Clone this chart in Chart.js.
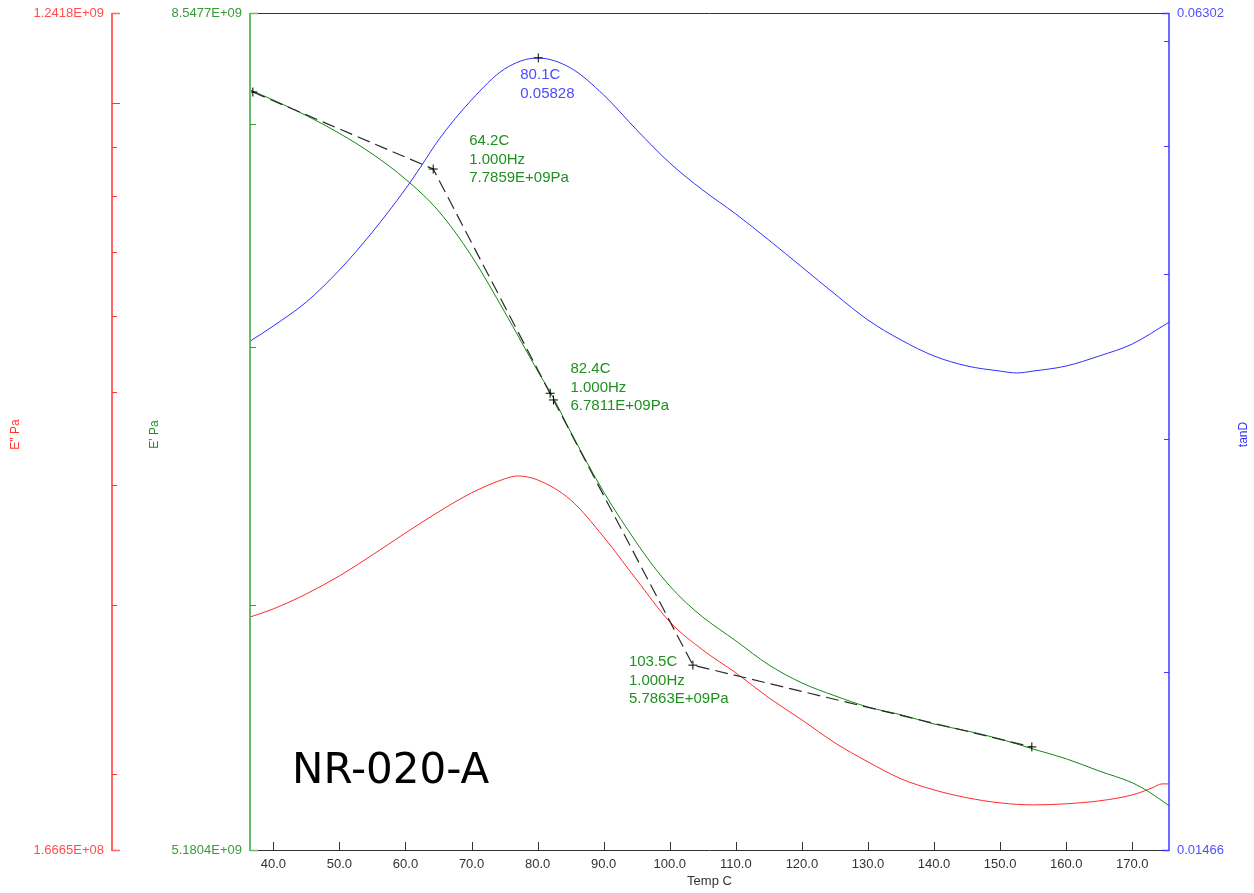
<!DOCTYPE html>
<html><head><meta charset="utf-8">
<script src="https://cdn.jsdelivr.net/npm/chart.js@4.4.1/dist/chart.umd.min.js"></script>
<style>html,body{margin:0;padding:0;background:#fff}#wrap{width:1254px;height:893px;position:relative}</style>
</head><body><div id="wrap"><canvas id="c"></canvas></div>
<script>
// ---------- DATA ----------
const X_MIN = 36.47, X_MAX = 175.56;
const xTickValues = [40,50,60,70,80,90,100,110,120,130,140,150,160,170];
const xTitle = 'Temp C';

const storageMin = 5.1804e9, storageMax = 8.5477e9;
const storageAxisLabels = ['8.5477E+09', '5.1804E+09'];
const storageTickValues = [8e9, 7e9, 6e9];
const storageTitle = "E' Pa";

const lossMin = 1.6665e8, lossMax = 1.2418e9;
const lossAxisLabels = ['1.2418E+09', '1.6665E+08'];
const lossTickValues = [1e9, 9e8, 8e8, 7e8, 6e8, 5e8, 4e8, 3e8, 2e8];
const lossTitle = "E'' Pa";

const tanMin = 0.01466, tanMax = 0.06302;
const tanAxisLabels = ['0.06302', '0.01466'];
const tanTickValues = [0.06, 0.05, 0.04, 0.03, 0.02];
const tanTitle = 'tanD';

const storageTemp = [36.5,40,45,50,55,60,65,70,75,80,82.4,85,90,95,97.5,100,102.5,105,110,115,120,125,130,135,140,145,150,155,160,165,170,172.5,175.6];
const storageModulus = [8.163e9,8.114e9,8.039e9,7.954e9,7.856e9,7.739e9,7.593e9,7.391e9,7.148e9,6.900e9,6.789e9,6.653e9,6.418e9,6.225e9,6.140e9,6.067e9,6.006e9,5.955e9,5.871e9,5.787e9,5.725e9,5.681e9,5.643e9,5.617e9,5.586e9,5.563e9,5.536e9,5.503e9,5.471e9,5.431e9,5.393e9,5.364e9,5.319e9];

const lossTemp = [36.5,40,45,50,55,60,65,70,75,77,80,85,90,95,100,105,110,115,120,125,130,135,140,145,150,155,160,165,170,173,174.5,175.6];
const lossModulus = [2.915e8,2.972e8,3.081e8,3.217e8,3.383e8,3.566e8,3.751e8,3.926e8,4.060e8,4.089e8,4.050e8,3.860e8,3.532e8,3.186e8,2.881e8,2.693e8,2.549e8,2.401e8,2.277e8,2.155e8,2.059e8,1.977e8,1.925e8,1.889e8,1.866e8,1.857e8,1.862e8,1.875e8,1.902e8,1.934e8,1.953e8,1.953e8];

const tanTemp = [36.5,40,45,50,55,60,62.5,65,70,75,80,85,90,95,100,105,110,115,120,125,130,135,140,145,150,152.5,155,160,165,170,175.6];
const tanDelta = [0.03558,0.03653,0.03809,0.04027,0.04303,0.04638,0.04836,0.05051,0.05416,0.05716,0.05827,0.05726,0.05463,0.05140,0.04853,0.04629,0.04440,0.04243,0.04048,0.03862,0.03691,0.03565,0.03467,0.03407,0.03377,0.03366,0.03377,0.03407,0.03467,0.03540,0.03678];

const onsetTemp = [36.9, 64.2, 82.4, 103.5, 154.8];
const onsetModulus = [8.153e9, 7.7859e9, 6.7811e9, 5.7863e9, 5.510e9];

const markerTemp = [36.9, 64.2, 81.9, 82.4, 103.5, 154.8];
const markerModulus = [8.153e9, 7.7859e9, 6.8084e9, 6.7811e9, 5.7863e9, 5.510e9];
const peakTemp = [80.1];
const peakTan = [0.05828];

const noteTemp = [80.1, 64.2, 82.4, 103.5];
const noteValue = [0.05828, 7.7859e9, 6.7811e9, 5.7863e9];
const noteAxis = ['yTan', 'yStorage', 'yStorage', 'yStorage'];
const noteText = [['80.1C','0.05828'], ['64.2C','1.000Hz','7.7859E+09Pa'], ['82.4C','1.000Hz','6.7811E+09Pa'], ['103.5C','1.000Hz','5.7863E+09Pa']];
const sampleName = 'NR-020-A';

// ---------- STYLE / LAYOUT ----------
const C_RED = '#ff2a2a', C_GREEN = '#118811', C_BLUE = '#3030ff';
const noteOffsets = [[-18,17],[36,-28],[17,-31],[-64,-3]];
const noteColors = ['#4b4bff', '#1f8f1f', '#1f8f1f', '#1f8f1f'];
const FONT = '"Liberation Sans", Arial, sans-serif';

const pts = (xs, ys) => xs.map((x,i)=>({x, y: ys[i]}));
const fixedTicks = vals => s => { s.ticks = vals.map(v=>({value:v})); };

const axesPlugin = {
  id: 'dmaAxes',
  afterDraw(chart) {
    const {ctx, chartArea: ca, scales} = chart;
    const xs = scales.x, yr = scales.yLoss, yg = scales.yStorage, yb = scales.yTan;
    const line = (x1,y1,x2,y2) => { ctx.beginPath(); ctx.moveTo(x1,y1); ctx.lineTo(x2,y2); ctx.stroke(); };
    ctx.save();
    // frame
    ctx.strokeStyle = '#333'; ctx.lineWidth = 1;
    line(ca.left, ca.top + 0.5, ca.right, ca.top + 0.5);
    line(ca.left, ca.bottom + 0.5, ca.right, ca.bottom + 0.5);
    xTickValues.forEach(v => { const p = Math.round(xs.getPixelForValue(v)) + 0.5; line(p, ca.bottom, p, ca.bottom - 8); });

    // red (loss) axis
    const rx = yr.right;
    ctx.strokeStyle = '#ff6666'; ctx.lineWidth = 2;
    line(rx, ca.top, rx, ca.bottom + 1);
    ctx.lineWidth = 1.5;
    line(rx, ca.top + 0.5, rx + 8, ca.top + 0.5);
    line(rx, ca.bottom + 0.5, rx + 8, ca.bottom + 0.5);
    ctx.strokeStyle = '#ff3333'; ctx.lineWidth = 1;
    lossTickValues.forEach((v,i) => { const p = Math.round(yr.getPixelForValue(v)) + 0.5; line(rx, p, rx + (i === 0 ? 8 : 5), p); });

    // green (storage) axis
    const gx = ca.left;
    ctx.strokeStyle = '#66bb66'; ctx.lineWidth = 2;
    line(gx, ca.top, gx, ca.bottom + 1);
    ctx.lineWidth = 1.5;
    line(gx, ca.top + 0.5, gx + 8, ca.top + 0.5);
    line(gx, ca.bottom + 0.5, gx + 8, ca.bottom + 0.5);
    ctx.strokeStyle = '#339933'; ctx.lineWidth = 1;
    storageTickValues.forEach(v => { const p = Math.round(yg.getPixelForValue(v)) + 0.5; line(gx, p, gx + 6, p); });

    // blue (tan) axis
    const bx = ca.right;
    ctx.strokeStyle = '#3b3bff'; ctx.lineWidth = 1.5;
    line(bx, ca.top, bx, ca.bottom + 1);
    line(bx - 7, ca.top + 0.5, bx, ca.top + 0.5);
    line(bx - 7, ca.bottom + 0.5, bx, ca.bottom + 0.5);
    ctx.lineWidth = 1;
    tanTickValues.forEach(v => { const p = Math.round(yb.getPixelForValue(v)) + 0.5; line(bx - 5, p, bx, p); });

    // end labels
    ctx.font = '13px ' + FONT; ctx.textBaseline = 'middle';
    ctx.textAlign = 'right';
    ctx.fillStyle = '#ff4d4d';
    ctx.fillText(lossAxisLabels[0], rx - 8, yr.getPixelForValue(lossMax));
    ctx.fillText(lossAxisLabels[1], rx - 8, yr.getPixelForValue(lossMin));
    ctx.fillStyle = '#3a9a3a';
    ctx.fillText(storageAxisLabels[0], gx - 8, yg.getPixelForValue(storageMax));
    ctx.fillText(storageAxisLabels[1], gx - 8, yg.getPixelForValue(storageMin));
    ctx.textAlign = 'left';
    ctx.fillStyle = '#5050ff';
    ctx.fillText(tanAxisLabels[0], bx + 8, yb.getPixelForValue(tanMax));
    ctx.fillText(tanAxisLabels[1], bx + 8, yb.getPixelForValue(tanMin));

    // axis titles
    const midY = (ca.top + ca.bottom) / 2 + 3;
    const vtext = (t, x, col) => { ctx.save(); ctx.translate(x, midY); ctx.rotate(-Math.PI/2); ctx.textAlign='center'; ctx.fillStyle = col; ctx.font = '12px ' + FONT; ctx.fillText(t, 0, 0); ctx.restore(); };
    vtext(lossTitle, yr.left + 16, '#ff3333');
    vtext(storageTitle, yg.left + 43, '#1f8f1f');
    vtext(tanTitle, yb.right - 10, '#3030ff');

    // annotations
    ctx.font = '15px ' + FONT; ctx.textAlign = 'left'; ctx.textBaseline = 'middle';
    noteText.forEach((lines, i) => {
      const s = scales[noteAxis[i]];
      const px = xs.getPixelForValue(noteTemp[i]), py = s.getPixelForValue(noteValue[i]);
      ctx.fillStyle = noteColors[i];
      lines.forEach((t, j) => ctx.fillText(t, px + noteOffsets[i][0], py + noteOffsets[i][1] + j * 18.5));
    });

    // sample name
    ctx.fillStyle = '#000'; ctx.font = '42px "DejaVu Sans", sans-serif'; ctx.textBaseline = 'alphabetic';
    ctx.fillText(sampleName, ca.left + 42, ca.bottom - 67);
    ctx.restore();
  }
};

new Chart(document.getElementById('c'), {
  type: 'line',
  data: {
    datasets: [
      { data: pts(markerTemp, markerModulus), yAxisID: 'yStorage', showLine: false, pointStyle: 'cross', pointRadius: 4.5, borderColor: '#000', borderWidth: 1 },
      { data: pts(peakTemp, peakTan), yAxisID: 'yTan', showLine: false, pointStyle: 'cross', pointRadius: 4.5, borderColor: '#000', borderWidth: 1 },
      { data: pts(onsetTemp, onsetModulus), yAxisID: 'yStorage', borderColor: '#2a2a2a', borderWidth: 1.2, borderDash: [13, 6], pointRadius: 0, tension: 0 },
      { data: pts(storageTemp, storageModulus), yAxisID: 'yStorage', borderColor: C_GREEN, borderWidth: 1, pointRadius: 0, cubicInterpolationMode: 'monotone' },
      { data: pts(lossTemp, lossModulus), yAxisID: 'yLoss', borderColor: C_RED, borderWidth: 1, pointRadius: 0, cubicInterpolationMode: 'monotone' },
      { data: pts(tanTemp, tanDelta), yAxisID: 'yTan', borderColor: C_BLUE, borderWidth: 1, pointRadius: 0, cubicInterpolationMode: 'monotone' }
    ]
  },
  options: {
    responsive: true, maintainAspectRatio: false, animation: false,
    layout: { padding: { top: 13, left: 0, right: 0, bottom: 0 } },
    plugins: { legend: { display: false }, tooltip: { enabled: false } },
    scales: {
      x: {
        type: 'linear', position: 'bottom', min: X_MIN, max: X_MAX,
        afterBuildTicks: fixedTicks(xTickValues),
        ticks: { callback: v => Number(v).toFixed(1), color: '#333', font: { family: FONT, size: 13 }, padding: 7, maxRotation: 0, autoSkip: false },
        grid: { display: false, drawTicks: false }, border: { display: false },
        title: { display: true, text: xTitle, color: '#333', font: { family: FONT, size: 13 }, padding: { top: 0, bottom: 4 } },
        afterFit: s => { s.height = 43; }
      },
      yLoss: {
        type: 'logarithmic', position: 'left', weight: 2, min: lossMin, max: lossMax,
        ticks: { display: false }, grid: { display: false }, border: { display: false },
        afterFit: s => { s.width = 112; }
      },
      yStorage: {
        type: 'logarithmic', position: 'left', weight: 1, min: storageMin, max: storageMax,
        ticks: { display: false }, grid: { display: false }, border: { display: false },
        afterFit: s => { s.width = 138; }
      },
      yTan: {
        type: 'logarithmic', position: 'right', min: tanMin, max: tanMax,
        ticks: { display: false }, grid: { display: false }, border: { display: false },
        afterFit: s => { s.width = 85; }
      }
    }
  },
  plugins: [axesPlugin]
});
</script></body></html>
